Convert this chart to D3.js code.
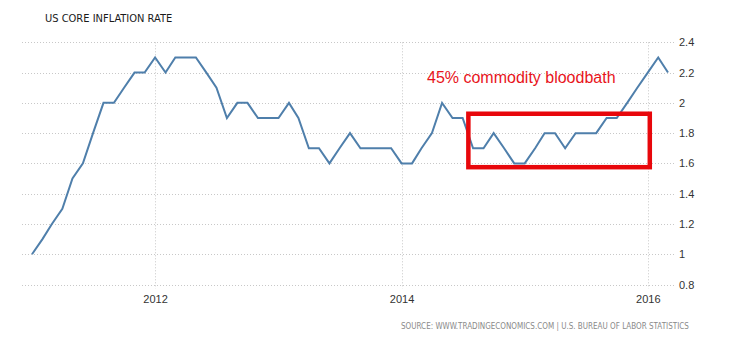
<!DOCTYPE html>
<html>
<head>
<meta charset="utf-8">
<script src="https://cdn.jsdelivr.net/npm/d3@7"></script>
<style>
  html, body { margin: 0; padding: 0; background: #fff; }
  svg { display: block; }
</style>
</head>
<body>
<svg id="chart" width="730" height="340"></svg>
<script>
// US core CPI, year-over-year %, monthly
const startMonth = "2011-01";
const coreInflation = [
  1.0, 1.1, 1.2, 1.3, 1.5, 1.6, 1.8, 2.0, 2.0, 2.1, 2.2, 2.2,   // 2011
  2.3, 2.2, 2.3, 2.3, 2.3, 2.2, 2.1, 1.9, 2.0, 2.0, 1.9, 1.9,   // 2012
  1.9, 2.0, 1.9, 1.7, 1.7, 1.6, 1.7, 1.8, 1.7, 1.7, 1.7, 1.7,   // 2013
  1.6, 1.6, 1.7, 1.8, 2.0, 1.9, 1.9, 1.7, 1.7, 1.8, 1.7, 1.6,   // 2014
  1.6, 1.7, 1.8, 1.8, 1.7, 1.8, 1.8, 1.8, 1.9, 1.9, 2.0, 2.1,   // 2015
  2.2, 2.3, 2.2                                                 // 2016
];
const yTicks = [0.8, 1, 1.2, 1.4, 1.6, 1.8, 2, 2.2, 2.4];
const xTickYears = [2012, 2014, 2016];

// highlighted stretch: Aug 2014 to Jan 2016, roughly 1.57–1.93
const highlightDates = ["2014-07-18", "2016-01-07"];
const highlightRange = [1.575, 1.928];
const highlightLabel = "45% commodity bloodbath";

const titleText = "US CORE INFLATION RATE";
const sourceText = "SOURCE: WWW.TRADINGECONOMICS.COM | U.S.  BUREAU OF LABOR STATISTICS";

const parseMonth = d3.timeParse("%Y-%m");
const t0 = parseMonth(startMonth);
const series = coreInflation.map((v, i) => ({ date: d3.timeMonth.offset(t0, i), value: v }));

const svg = d3.select("#chart");

const x = d3.scaleTime()
  .domain([series[0].date, series[series.length - 1].date])
  .range([32, 668]);
const y = d3.scaleLinear()
  .domain([0.8, 2.4])
  .range([284.5, 42.3]);

const gridLeft = 22, gridRight = 675;

// horizontal grid
svg.append("g")
  .selectAll("line")
  .data(yTicks)
  .join("line")
  .attr("x1", gridLeft).attr("x2", gridRight)
  .attr("y1", d => Math.round(y(d)) + 0.5).attr("y2", d => Math.round(y(d)) + 0.5)
  .attr("stroke", "#c8c8c8")
  .attr("stroke-width", 1)
  .attr("stroke-dasharray", "1,2");

// vertical year grid with small tick below the axis
const yearDates = xTickYears.map(yr => new Date(yr, 0, 1));
svg.append("g")
  .selectAll("line")
  .data(yearDates)
  .join("line")
  .attr("x1", d => Math.round(x(d)) + 0.5).attr("x2", d => Math.round(x(d)) + 0.5)
  .attr("y1", y(2.4)).attr("y2", y(0.8) + 4)
  .attr("stroke", "#c8c8c8")
  .attr("stroke-width", 1)
  .attr("stroke-dasharray", "1,2");

// right-side y axis labels
const yAxis = d3.axisRight(y)
  .tickValues(yTicks)
  .tickSize(0)
  .tickPadding(0)
  .tickFormat(d3.format("~g"));
const gy = svg.append("g")
  .attr("transform", `translate(679,0)`)
  .call(yAxis);
gy.select(".domain").remove();
gy.selectAll("text")
  .attr("font-family", "Arial, 'Liberation Sans', sans-serif")
  .attr("font-size", 11)
  .attr("fill", "#333");

// bottom x axis labels
const xAxis = d3.axisBottom(x)
  .tickValues(yearDates)
  .tickSize(0)
  .tickPadding(0)
  .tickFormat(d3.timeFormat("%Y"));
const gx = svg.append("g")
  .attr("transform", `translate(0,295)`)
  .call(xAxis);
gx.select(".domain").remove();
gx.selectAll("text")
  .attr("font-family", "Arial, 'Liberation Sans', sans-serif")
  .attr("font-size", 11)
  .attr("fill", "#333");

// main series
const line = d3.line()
  .x(d => x(d.date))
  .y(d => y(d.value));
svg.append("path")
  .datum(series)
  .attr("d", line)
  .attr("fill", "none")
  .attr("stroke", "#4f7fab")
  .attr("stroke-width", 2)
  .attr("stroke-linejoin", "miter");

// highlight box
const hx0 = x(new Date(highlightDates[0])), hx1 = x(new Date(highlightDates[1]));
const hy0 = y(highlightRange[1]), hy1 = y(highlightRange[0]);
svg.append("rect")
  .attr("x", hx0).attr("y", hy0)
  .attr("width", hx1 - hx0).attr("height", hy1 - hy0)
  .attr("fill", "none")
  .attr("stroke", "#e8070b")
  .attr("stroke-width", 4.5);

svg.append("text")
  .attr("x", 427).attr("y", 83)
  .attr("font-family", "Arial, 'Liberation Sans', sans-serif")
  .attr("font-size", 16)
  .attr("fill", "#e8141b")
  .text(highlightLabel);

// title
svg.append("text")
  .attr("x", 45).attr("y", 22)
  .attr("font-family", "'DejaVu Sans Condensed', 'DejaVu Sans', sans-serif")
  .attr("font-size", 11)
  .attr("fill", "#1a1a1a")
  .text(titleText);

// source line
svg.append("text")
  .attr("x", 401).attr("y", 328.5)
  .attr("font-family", "'DejaVu Sans Condensed', 'DejaVu Sans', sans-serif")
  .attr("font-size", 8)
  .attr("fill", "#8a8a8a")
  .text(sourceText);
</script>
</body>
</html>
